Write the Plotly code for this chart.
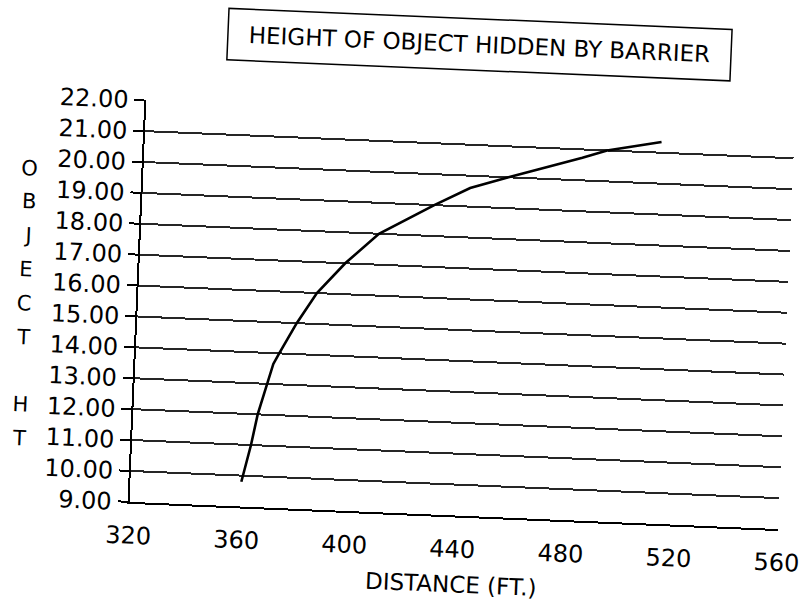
import plotly.graph_objects as go

# Data
distance_ft = [361, 364, 366, 369, 371, 373, 379, 386, 396, 408, 428, 441, 455, 482, 491, 511]
object_ht = [9.8, 11.0, 12.0, 13.0, 13.65, 14.0, 15.0, 16.0, 17.0, 18.0, 19.0, 19.6, 20.0, 20.73, 21.0, 21.35]
x_ticks = [320, 360, 400, 440, 480, 520, 560]
y_ticks = [9, 10, 11, 12, 13, 14, 15, 16, 17, 18, 19, 20, 21, 22]
y_title_letters = ["O", "B", "J", "E", "C", "T", "", "H", "T"]

W, H = 840, 610
L, R, T, B = 137.5, 840 - 787, 111, 97
pw, ph = W - L - R, H - T - B

def px_x(p):
    return (p - L) / pw

def px_y(p):
    return (H - B - p) / ph

FONT = "DejaVu Sans"

fig = go.Figure()
fig.add_trace(go.Scatter(
    x=distance_ft, y=object_ht, mode="lines",
    line=dict(color="black", width=2.6), showlegend=False, hoverinfo="skip",
))

fig.update_layout(
    width=W, height=H,
    margin=dict(l=L, r=R, t=T, b=B, pad=0),
    paper_bgcolor="white", plot_bgcolor="white",
    font=dict(family=FONT, color="black", size=24),
    showlegend=False,
    xaxis=dict(
        range=[320, 560], tickvals=x_ticks, ticktext=[str(v) for v in x_ticks],
        showgrid=False, zeroline=False, showline=True, linecolor="black", linewidth=2,
        ticks="", ticklabelstandoff=11, ticklabeloverflow="allow",
        tickfont=dict(size=24, family=FONT),
        title=dict(text="DISTANCE (FT.)", font=dict(size=23, family=FONT), standoff=14),
    ),
    yaxis=dict(
        range=[9, 22], tickvals=y_ticks, ticktext=[f"{v:.2f}" for v in y_ticks],
        showgrid=True, gridcolor="#262626", gridwidth=1.5, zeroline=False,
        showline=True, linecolor="black", linewidth=2,
        ticks="outside", ticklen=10, tickwidth=1.5, tickcolor="black",
        ticklabelstandoff=1, tickfont=dict(size=24, family=FONT),
    ),
)

# Boxed title
fig.add_annotation(
    xref="paper", yref="paper", x=px_x(468), y=px_y(41.2),
    xanchor="center", yanchor="middle", showarrow=False,
    text="HEIGHT OF OBJECT HIDDEN BY BARRIER",
    font=dict(size=23, family=FONT, color="black"),
    bordercolor="black", borderwidth=1.5, borderpad=5, width=492, height=40,
    bgcolor="white",
)

# Vertical y-axis title, one letter per line
for k, ch in enumerate(y_title_letters):
    if not ch:
        continue
    fig.add_annotation(
        xref="paper", yref="paper", x=px_x(24), y=px_y(183.6 + k * 33.8),
        xanchor="center", yanchor="middle", showarrow=False,
        text=ch, font=dict(size=21, family=FONT, color="black"),
    )

post = (
    "document.body.style.margin='0';"
    "document.body.style.overflow='hidden';"
    "document.documentElement.style.overflow='hidden';"
    "var d=document.getElementById('{plot_id}');"
    "d.style.transformOrigin='399.5px 305px';"
    "d.style.transform='rotate(2.4deg)';"
)
fig.write_html("out.html", config={"displayModeBar": False}, post_script=post)
